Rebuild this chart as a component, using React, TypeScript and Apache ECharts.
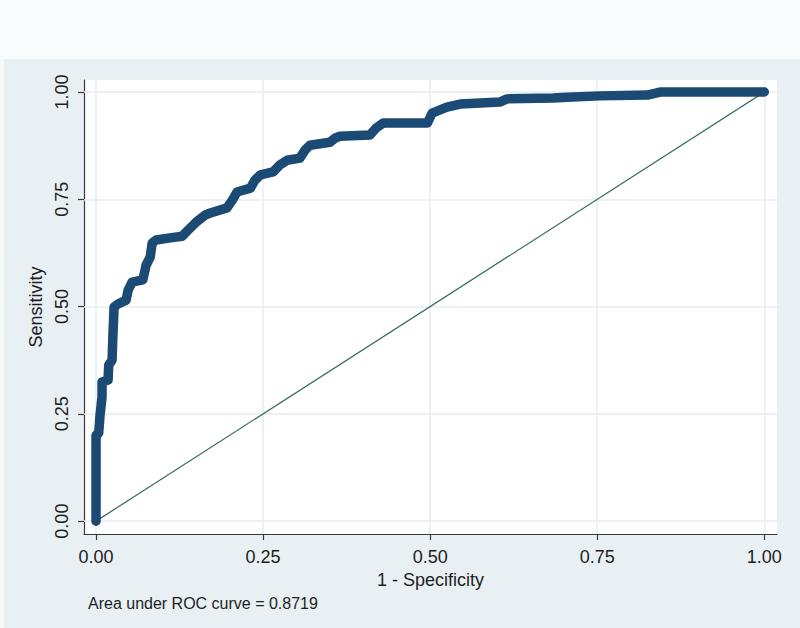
import React, { useEffect, useRef } from "react";
import * as echarts from "echarts";

// ROC curve points (1 - specificity, sensitivity)
const fpr = [
  0, 0, 0.004, 0.006, 0.009, 0.009, 0.018, 0.019, 0.024, 0.025, 0.027, 0.033,
  0.045, 0.048, 0.054, 0.07, 0.075, 0.081, 0.084, 0.09, 0.111, 0.129, 0.141,
  0.15, 0.163, 0.171, 0.196, 0.204, 0.211, 0.231, 0.238, 0.246, 0.265, 0.275,
  0.286, 0.305, 0.313, 0.32, 0.35, 0.358, 0.365, 0.41, 0.419, 0.43, 0.496,
  0.503, 0.525, 0.545, 0.605, 0.615, 0.684, 0.705, 0.754, 0.825, 0.844, 1,
];
const tpr = [
  0, 0.2, 0.205, 0.247, 0.289, 0.324, 0.329, 0.364, 0.375, 0.422, 0.499, 0.506,
  0.515, 0.538, 0.557, 0.562, 0.597, 0.615, 0.648, 0.655, 0.66, 0.664, 0.683,
  0.697, 0.713, 0.718, 0.73, 0.748, 0.767, 0.776, 0.795, 0.807, 0.814, 0.83,
  0.841, 0.846, 0.865, 0.876, 0.883, 0.893, 0.897, 0.9, 0.916, 0.928, 0.928,
  0.951, 0.965, 0.972, 0.977, 0.984, 0.986, 0.988, 0.991, 0.993, 1, 1,
];
const refX = [0, 1];
const refY = [0, 1];
const tickValues = [0, 0.25, 0.5, 0.75, 1];
const aucText = "Area under ROC curve = 0.8719";
const xTitle = "1 - Specificity";
const yTitle = "Sensitivity";

const FONT = "'Liberation Sans', Arial, Helvetica, sans-serif";

export default function App() {
  const ref = useRef<HTMLDivElement>(null);
  useEffect(() => {
    const chart = echarts.init(ref.current!, null, { renderer: "svg" });
    const curve = fpr.map((x, i) => [x, tpr[i]]);
    const diag = refX.map((x, i) => [x, refY[i]]);
    const axisCommon = {
      type: "value" as const,
      axisLine: { show: true, onZero: false, lineStyle: { color: "#3a3a3a", width: 1.2 } },
      axisTick: {
        show: true,
        customValues: tickValues,
        length: 6,
        lineStyle: { color: "#3a3a3a", width: 1.2 },
      },
      splitLine: { show: false },
      nameLocation: "middle" as const,
      nameTextStyle: { fontFamily: FONT, fontSize: 18, color: "#1e1e1e" },
    };
    chart.setOption({
      animation: false,
      backgroundColor: "#e9f0f3",
      graphic: [
        {
          type: "rect",
          shape: { x: 0, y: 0, width: 800, height: 59 },
          style: { fill: "#fafbfc" },
          silent: true,
        },
        {
          type: "rect",
          shape: { x: 0, y: 59, width: 4, height: 569 },
          style: { fill: "#f6f9fa" },
          silent: true,
        },
        {
          type: "text",
          x: 88,
          y: 603,
          style: {
            text: aucText,
            fontFamily: FONT,
            fontSize: 16,
            fill: "#1e1e1e",
            verticalAlign: "middle",
            align: "left",
          },
        },
      ],
      grid: {
        left: 84,
        right: 23,
        top: 80,
        bottom: 94,
        show: true,
        backgroundColor: "#ffffff",
        borderWidth: 0,
      },
      xAxis: {
        ...axisCommon,
        min: -0.018,
        max: 1.019,
        name: xTitle,
        nameGap: 35,
        axisLabel: {
          customValues: tickValues,
          formatter: (v: number) => v.toFixed(2),
          fontFamily: FONT,
          fontSize: 18,
          color: "#1e1e1e",
          margin: 14,
        },
      },
      yAxis: {
        ...axisCommon,
        min: -0.03,
        max: 1.028,
        name: yTitle,
        nameGap: 37,
        axisLabel: {
          customValues: tickValues,
          formatter: (v: number) => v.toFixed(2),
          fontFamily: FONT,
          fontSize: 18,
          color: "#1e1e1e",
          rotate: 90,
          margin: 13,
        },
      },
      series: [
        {
          type: "line",
          data: diag,
          symbol: "none",
          z: 2,
          lineStyle: { color: "#2f6a5e", width: 1.2 },
          markLine: {
            silent: true,
            symbol: "none",
            z: 1,
            label: { show: false },
            lineStyle: { color: "#e7edf0", width: 1.5, type: "solid" },
            data: [
              ...tickValues.map((v) => ({ xAxis: v })),
              ...tickValues.map((v) => ({ yAxis: v })),
            ],
          },
        },
        {
          type: "line",
          data: curve,
          symbol: "none",
          z: 3,
          lineStyle: {
            color: "#1b4a74",
            width: 9.5,
            cap: "round",
            join: "round",
          },
        },
      ],
    });
    return () => chart.dispose();
  }, []);
  return (
    <div
      ref={ref}
      style={{ position: "absolute", left: 0, top: 0, width: 800, height: 628 }}
    />
  );
}
